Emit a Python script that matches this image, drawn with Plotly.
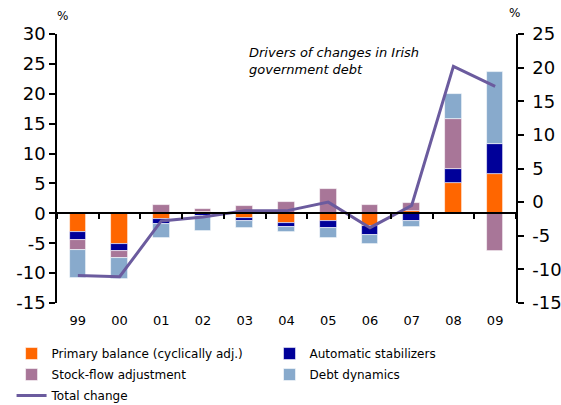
import plotly.graph_objects as go

# Contributions to the annual change in Irish government debt (% of GDP)
years = ["99", "00", "01", "02", "03", "04", "05", "06", "07", "08", "09"]
primary_balance = [-3.1, -5.2, -1.0, 0.3, -0.8, -1.6, -1.3, -2.2, 0.4, 5.0, 6.5]
auto_stabilizers = [-1.4, -1.1, -0.8, -0.4, -0.5, -0.7, -1.2, -1.5, -1.3, 2.4, 5.1]
stock_flow = [-1.7, -1.2, 1.4, 0.45, 1.2, 1.85, 4.0, 1.4, 1.3, 8.4, -6.3]
debt_dynamics = [-4.6, -3.5, -2.3, -2.55, -1.2, -0.9, -1.55, -1.4, -0.95, 4.2, 12.0]
total_change = [-10.9, -11.1, -2.8, -2.2, -1.3, -1.3, 0.0, -3.8, -0.5, 20.2, 17.2]

# axis tick values (components on the left scale, total change on the right)
left_ticks = [-15, -10, -5, 0, 5, 10, 15, 20, 25, 30]
right_ticks = [-15, -10, -5, 0, 5, 10, 15, 20, 25]

FONT = "Verdana, DejaVu Sans, sans-serif"
bar_edge = dict(color="rgba(255,255,255,0.7)", width=0.8)

fig = go.Figure()
# left legend column: primary balance, stock-flow, total; right column: the other two
for name, vals, col, leg in [
    ("Primary balance (cyclically adj.)", primary_balance, "#FF6600", "legend"),
    ("Automatic stabilizers", auto_stabilizers, "#000099", "legend2"),
    ("Stock-flow adjustment", stock_flow, "#A87698", "legend"),
    ("Debt dynamics", debt_dynamics, "#88AACC", "legend2"),
]:
    fig.add_trace(go.Bar(x=years, y=vals, name=name, width=0.4,
                         legend=leg, legendgroup=name,
                         marker=dict(color=col, line=bar_edge)))

fig.add_trace(go.Scatter(x=years, y=total_change, name="Total change",
                         mode="lines", line=dict(color="#6B5B9E", width=3),
                         legend="legend", legendgroup="total",
                         xaxis="x2", yaxis="y2"))

legend_common = dict(orientation="v", yanchor="top", xanchor="left",
                     font=dict(size=12), traceorder="grouped",
                     tracegroupgap=2, bgcolor="rgba(0,0,0,0)",
                     borderwidth=0)

axis_line = dict(showline=True, linecolor="black", linewidth=1.5,
                 ticks="outside", ticklen=6, tickwidth=1.5, tickcolor="black",
                 showgrid=False, zeroline=False, tickfont=dict(size=18))

fig.update_layout(
    width=561, height=405,
    margin=dict(l=57, r=45, t=34, b=102, autoexpand=False),
    paper_bgcolor="white", plot_bgcolor="white",
    barmode="relative", bargap=0,
    font=dict(family=FONT, color="black"),
    xaxis=dict(type="category", categoryorder="array", categoryarray=years,
               range=[-0.5, 10.5], showline=False, showgrid=False,
               zeroline=False, ticks="", tickfont=dict(size=13),
               ticklabelstandoff=8),
    xaxis2=dict(type="category", categoryorder="array", categoryarray=years,
                range=[-0.5, 10.5], overlaying="x", anchor="free",
                position=1/3, showline=True, linecolor="black", linewidth=1.5,
                ticks="outside", tickson="boundaries", ticklen=5,
                tickwidth=1.5, tickcolor="black", showticklabels=False,
                showgrid=False, zeroline=False),
    yaxis=dict(range=[-15, 30], tickmode="array", tickvals=left_ticks,
               ticktext=[str(v) for v in left_ticks], **axis_line),
    yaxis2=dict(range=[-15, 25], tickmode="array", tickvals=right_ticks,
                ticktext=[str(v) for v in right_ticks], overlaying="y",
                side="right", anchor="x2", ticklabelstandoff=5, **axis_line),
    legend=dict(x=-0.099, y=-0.134, **legend_common),
    legend2=dict(x=0.463, y=-0.134, **legend_common),
    showlegend=True,
)

fig.add_annotation(text="<i>Drivers of changes in Irish<br>government debt</i>",
                   xref="paper", yref="paper", x=0.413, y=0.967,
                   xanchor="left", yanchor="top", showarrow=False,
                   align="left", font=dict(size=13))
fig.add_annotation(text="%", xref="paper", yref="paper", x=0.011, y=1.067,
                   xanchor="center", yanchor="middle", showarrow=False,
                   font=dict(size=12))
fig.add_annotation(text="%", xref="paper", yref="paper", x=0.996, y=1.078,
                   xanchor="center", yanchor="middle", showarrow=False,
                   font=dict(size=12))

fig.write_html("out.html")
